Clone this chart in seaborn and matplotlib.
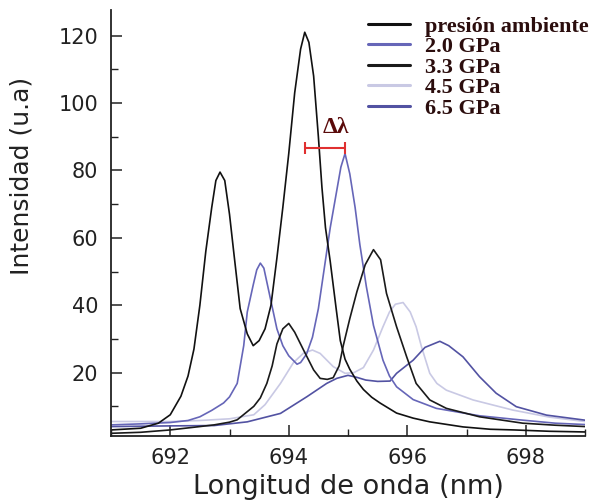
import matplotlib
matplotlib.use("Agg")
import matplotlib.pyplot as plt
import numpy as np
import pandas as pd
import seaborn as sns
from matplotlib.ticker import MultipleLocator
from matplotlib.lines import Line2D

# ---- data ----
series_names = ["presión ambiente", "2.0 GPa", "3.3 GPa", "4.5 GPa", "6.5 GPa"]
series_colors = ["#111111", "#6666b8", "#1a1a1a", "#c9c9e4", "#5252a2"]

x_amb = [691.0, 691.5, 691.8, 692.0, 692.18, 692.3, 692.4, 692.5, 692.6, 692.7, 692.77, 692.84,
         692.92, 693.0, 693.07, 693.18, 693.3, 693.4, 693.5, 693.6, 693.7, 693.8, 693.9, 694.0,
         694.1, 694.2, 694.27, 694.34, 694.42, 694.5, 694.56, 694.62, 694.7, 694.8, 694.87, 694.95,
         695.03, 695.15, 695.26, 695.4, 695.54, 695.82, 696.1, 696.38, 696.94, 697.4, 697.8, 698.4, 699.0]
y_amb = [3.0, 3.5, 5.0, 7.5, 13, 19, 27, 40, 56, 69, 77, 79.5,
         77, 67, 56, 39, 31.5, 28, 29.5, 33, 40, 54, 69, 85,
         103, 116, 121, 118, 108, 90, 75, 63, 53, 39, 29.5, 24,
         21, 17.5, 15, 12.7, 11, 8, 6.5, 5.4, 3.9, 3.2, 3.0, 2.6, 2.4]

x_20 = [691.0, 691.5, 692.0, 692.3, 692.5, 692.7, 692.9, 693.0, 693.13, 693.24, 693.3, 693.4,
        693.46, 693.52, 693.58, 693.69, 693.8, 693.9, 694.0, 694.14, 694.2, 694.3, 694.4, 694.5,
        694.6, 694.7, 694.8, 694.88, 694.95, 695.03, 695.12, 695.2, 695.31, 695.43, 695.59, 695.7,
        695.82, 696.1, 696.49, 697.22, 697.95, 698.5, 699.0]
y_20 = [4.5, 4.8, 5.2, 5.8, 6.9, 8.8, 11, 12.8, 16.8, 28, 38, 46,
        50.5, 52.5, 51, 42, 33, 28, 25, 22.5, 23, 25.5, 30.5, 39,
        51, 63, 73, 81, 85, 79, 69, 58, 45.5, 34, 23.7, 19,
        15.8, 12, 9.4, 7.2, 5.9, 5.0, 4.6]

x_33 = [691.0, 691.5, 692.0, 692.5, 692.74, 693.0, 693.13, 693.27, 693.41, 693.52, 693.63, 693.72,
        693.8, 693.9, 694.0, 694.1, 694.25, 694.42, 694.53, 694.65, 694.75, 694.85, 694.92, 695.03,
        695.15, 695.29, 695.43, 695.55, 695.65, 695.82, 695.99, 696.15, 696.38, 696.66, 697.22, 697.95,
        698.5, 699.0]
y_33 = [2.0, 2.3, 3.0, 4.0, 4.5, 5.3, 6.0, 8.0, 10, 12.5, 16.8, 22,
        28.5, 33, 34.6, 32, 26.7, 20.8, 18.3, 18, 18.5, 22, 28, 36,
        44, 52, 56.5, 53.5, 43.5, 33.6, 24.7, 16.8, 11.9, 9.4, 6.9, 5.0,
        4.4, 4.0]

x_45 = [691.0, 692.0, 692.5, 693.0, 693.41, 693.6, 693.86, 694.08, 694.25, 694.4, 694.53, 694.75,
        694.95, 695.1, 695.26, 695.43, 695.59, 695.7, 695.8, 695.93, 696.05, 696.15, 696.24, 696.38,
        696.5, 696.66, 697.11, 697.78, 698.4, 699.0]
y_45 = [5.5, 5.5, 5.8, 6.3, 7.5, 10.5, 16.8, 23, 25.8, 26.7, 25.7, 21.8,
        19.8, 20, 21.5, 26.7, 33.6, 38, 40.3, 40.8, 38, 33.6, 27.7, 19.8,
        16.8, 14.8, 11.9, 8.9, 6.8, 5.5]

x_65 = [691.0, 692.0, 692.74, 693.3, 693.86, 694.31, 694.64, 694.81, 695.0, 695.15, 695.3, 695.5,
        695.71, 695.82, 696.1, 696.3, 696.55, 696.7, 696.94, 697.22, 697.5, 697.84, 698.35, 699.0]
y_65 = [4.0, 4.2, 4.3, 5.4, 7.9, 12.9, 16.8, 18.3, 19.2, 18.6, 17.8, 17.4,
        17.5, 19.8, 23.7, 27.5, 29.3, 28, 24.7, 18.8, 13.9, 9.9, 7.4, 5.9]

x_ticks = [692, 694, 696, 698]
y_ticks = [20, 40, 60, 80, 100, 120]

# Δλ annotation
dl_left, dl_right, dl_y = 694.28, 694.95, 86.6
dl_text_x, dl_text_y = 694.8, 92.6

# ---- build frame ----
frames = []
for name, xs, ys in zip(series_names, [x_amb, x_20, x_33, x_45, x_65], [y_amb, y_20, y_33, y_45, y_65]):
    frames.append(pd.DataFrame({"lambda": xs, "I": ys, "serie": name}))
df = pd.concat(frames, ignore_index=True)

sns.set_theme(style="ticks")
plt.rcParams["font.family"] = ["DejaVu Sans"]

fig = plt.figure(figsize=(5.98, 5.04), dpi=100)
ax = fig.add_axes([111 / 598, (504 - 436) / 504, (585 - 111) / 598, (436 - 10) / 504])

order = ["4.5 GPa", "6.5 GPa", "2.0 GPa", "3.3 GPa", "presión ambiente"]
pal = dict(zip(series_names, series_colors))
for name in order:
    sns.lineplot(data=df[df["serie"] == name], x="lambda", y="I", color=pal[name],
                 lw=1.2, estimator=None, sort=True, ax=ax, legend=False)

ax.set_xlim(691.0, 699.0)
ax.set_ylim(1.2, 127.6)
ax.set_xticks(x_ticks)
ax.set_yticks(y_ticks)
ax.xaxis.set_minor_locator(MultipleLocator(1))
ax.yaxis.set_minor_locator(MultipleLocator(10))
ax.tick_params(which="major", direction="in", length=8, width=1.1, labelsize=15,
               labelcolor="#222222", color="#222222", pad=9)
ax.tick_params(which="minor", direction="in", length=5, width=1.0, color="#222222")
sns.despine(ax=ax)
for s in ["left", "bottom"]:
    ax.spines[s].set_linewidth(1.3)
    ax.spines[s].set_color("#222222")

ax.set_xlabel("Longitud de onda (nm)", fontsize=19.5, color="#222222", labelpad=4)
ax.set_ylabel("Intensidad (u.a)", fontsize=18, color="#222222")
ax.yaxis.set_label_coords(-0.163, 0.61)

# legend
handles = [Line2D([], [], color=c, lw=2.2) for c in series_colors]
leg = fig.legend(handles, series_names, loc="upper left",
                 bbox_to_anchor=(368 / 598, (504 - 16) / 504), bbox_transform=fig.transFigure,
                 frameon=False, borderpad=0, borderaxespad=0, handlelength=1.9,
                 handletextpad=0.65, labelspacing=0.0,
                 prop={"family": "Liberation Serif", "weight": "bold", "size": 16})
for t in leg.get_texts():
    t.set_color("#2b0d0d")

# Δλ marker
ax.errorbar([(dl_left + dl_right) / 2], [dl_y], xerr=[(dl_right - dl_left) / 2], color="#e03030",
            capsize=4, lw=1.5, capthick=1.5, fmt="none")
ax.text(dl_text_x, dl_text_y, "Δλ", color="#5a0a0a", fontsize=17, fontweight="bold",
        family="Liberation Serif", ha="center", va="center")

fig.savefig("out.png", dpi=100, facecolor="white")
